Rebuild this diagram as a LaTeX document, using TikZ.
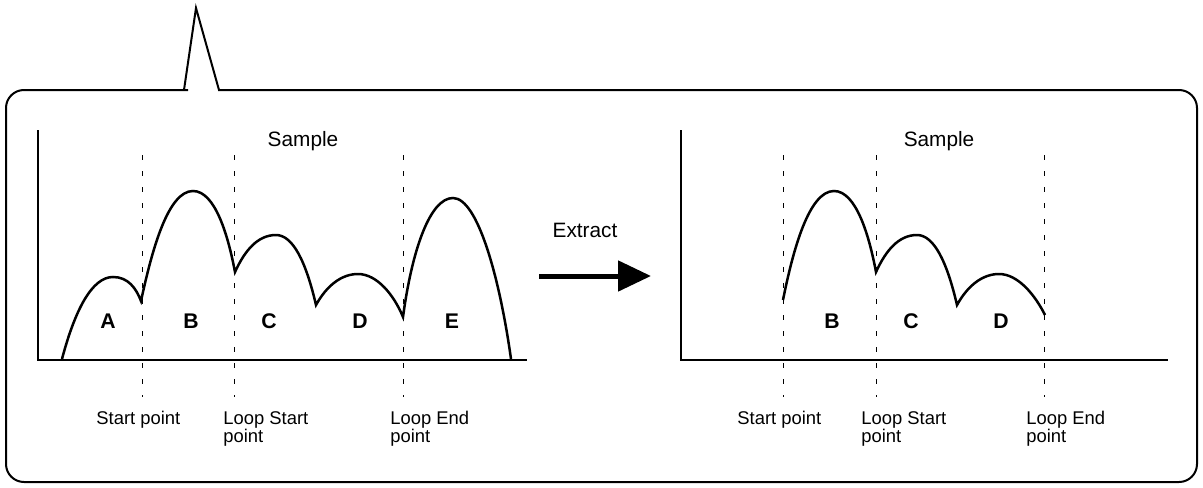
\documentclass[tikz,border=0pt]{standalone}
\usepackage{fontspec}
\setmainfont{Liberation Sans}
\usetikzlibrary{arrows.meta,positioning}
\tikzset{
  callout/.style={draw=black,line width=1pt,line join=miter},
  axis/.style={draw=black,line width=0.85pt},
  wave/.style={draw=black,line width=1.25pt},
  guide/.style={draw=black,line width=0.45pt,dash pattern=on 2.5pt off 5.5pt},
  title/.style={font=\fontsize{10.4}{12}\selectfont,inner sep=0pt},
  tag/.style={font=\fontsize{10.6}{12}\selectfont\bfseries,inner sep=0pt},
  pointlbl/.style={font=\fontsize{9.2}{9}\selectfont,align=left,inner sep=0pt,anchor=base west},
  bigarrow/.style={-{Triangle[length=16.5pt,width=15pt]},line width=2.5pt},
}

\begin{document}
\begin{tikzpicture}[x=0.5pt,y=-0.5pt]
\useasboundingbox (0,0) rectangle (1203,487);

% speech bubble frame
\draw[callout] (600,90) [rounded corners=9pt] -- (1197,90) -- (1197,482) -- (6,482) -- (6,90) -- (170,90)
  [sharp corners] -- (184,90) -- (196,8) -- (219,90) -- cycle;

% left panel: original sample
\draw[axis] (38,130) -- (38,360) -- (527,360);
\node[title] (smpL) at (303,141) {Sample};
\foreach \x in {142,234,403} \draw[guide] (\x,155) -- (\x,397);
\draw[wave] (62,359) .. controls (75,310) and (92,277) .. (113,277)
  .. controls (128,277) and (136,288) .. (141,301)
  .. controls (152,250) and (168,191) .. (193,191)
  .. controls (215,191) and (228,235) .. (235,272)
  .. controls (245,250) and (258,235) .. (276,235)
  .. controls (293,235) and (306,262) .. (316,305)
  .. controls (327,285) and (342,274) .. (358,274)
  .. controls (377,274) and (394,295) .. (403,317)
  .. controls (412,250) and (430,198) .. (453,198)
  .. controls (478,198) and (500,280) .. (511,359);
\node[tag] (aL) at (108,321) {A};
\node[tag] (bL) at (191,321) {B};
\node[tag] (cL) at (269,321) {C};
\node[tag] (dL) at (360,321) {D};
\node[tag] (eL) at (452,321) {E};
\node[pointlbl] (startL) at (96,424) {Start point};
\node[pointlbl] (lstartL) at (223,442) {Loop Start\\point};
\node[pointlbl] (lendL) at (390,442) {Loop End\\point};

% extract arrow
\coordinate (arrfrom) at (539,276);
\coordinate (arrto) at (651,276);
\draw[bigarrow] (arrfrom) -- (arrto);
\node[title] (extract) at (585,230) {Extract};

% right panel: extracted part
\draw[axis] (681,130) -- (681,360) -- (1168,360);
\node[title] (smpR) at (939,141) {Sample};
\foreach \x in {783,876,1044} \draw[guide] (\x,155) -- (\x,397);
\draw[wave] (783,300) .. controls (793,250) and (809,191) .. (834,191)
  .. controls (856,191) and (869,235) .. (876,272)
  .. controls (886,250) and (899,235) .. (917,235)
  .. controls (934,235) and (947,262) .. (957,305)
  .. controls (968,285) and (983,274) .. (999,274)
  .. controls (1018,274) and (1035,295) .. (1045,315);
\node[tag] (bR) at (832,321) {B};
\node[tag] (cR) at (911,321) {C};
\node[tag] (dR) at (1001,321) {D};
\node[pointlbl] (startR) at (737,424) {Start point};
\node[pointlbl] (lstartR) at (861,442) {Loop Start\\point};
\node[pointlbl] (lendR) at (1026,442) {Loop End\\point};

\end{tikzpicture}
\end{document}
